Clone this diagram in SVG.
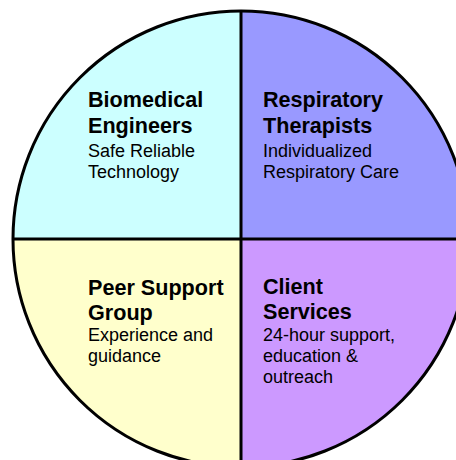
<svg xmlns="http://www.w3.org/2000/svg" width="456" height="460" viewBox="0 0 456 460">
<style>
.q{stroke:none}
.t{font-family:"Liberation Sans",Arial,sans-serif;fill:#000}
.h{font-weight:bold;font-size:21.6px}
.s{font-size:18px}
</style>
<rect width="456" height="460" fill="#fff"/>
<g id="biomedical">
<path class="q" d="M241,239 L13,239 A228,228 0 0 1 241,11 Z" fill="#CCFFFF"/>
<text class="t h" x="88" y="107">Biomedical</text>
<text class="t h" x="88" y="133">Engineers</text>
<text class="t s" x="88" y="157">Safe Reliable</text>
<text class="t s" x="88" y="178">Technology</text>
</g>
<g id="respiratory">
<path class="q" d="M241,239 L241,11 A228,228 0 0 1 469,239 Z" fill="#9999FF"/>
<text class="t h" x="263" y="107">Respiratory</text>
<text class="t h" x="263" y="133">Therapists</text>
<text class="t s" x="263" y="157">Individualized</text>
<text class="t s" x="263" y="178">Respiratory Care</text>
</g>
<g id="peer">
<path class="q" d="M241,239 L241,467 A228,228 0 0 1 13,239 Z" fill="#FFFFCC"/>
<text class="t h" x="88" y="295">Peer Support</text>
<text class="t h" x="88" y="320">Group</text>
<text class="t s" x="88" y="341">Experience and</text>
<text class="t s" x="88" y="362">guidance</text>
</g>
<g id="client">
<path class="q" d="M241,239 L469,239 A228,228 0 0 1 241,467 Z" fill="#CC99FF"/>
<text class="t h" x="263" y="294">Client</text>
<text class="t h" x="263" y="319">Services</text>
<text class="t s" x="263" y="341">24-hour support,</text>
<text class="t s" x="263" y="362">education &amp;</text>
<text class="t s" x="263" y="383">outreach</text>
</g>
<g id="connectors" stroke="#000" stroke-width="3" fill="none">
<circle cx="241" cy="239" r="228"/>
<line x1="241" y1="11" x2="241" y2="467"/>
<line x1="13" y1="239" x2="469" y2="239"/>
</g>
</svg>
